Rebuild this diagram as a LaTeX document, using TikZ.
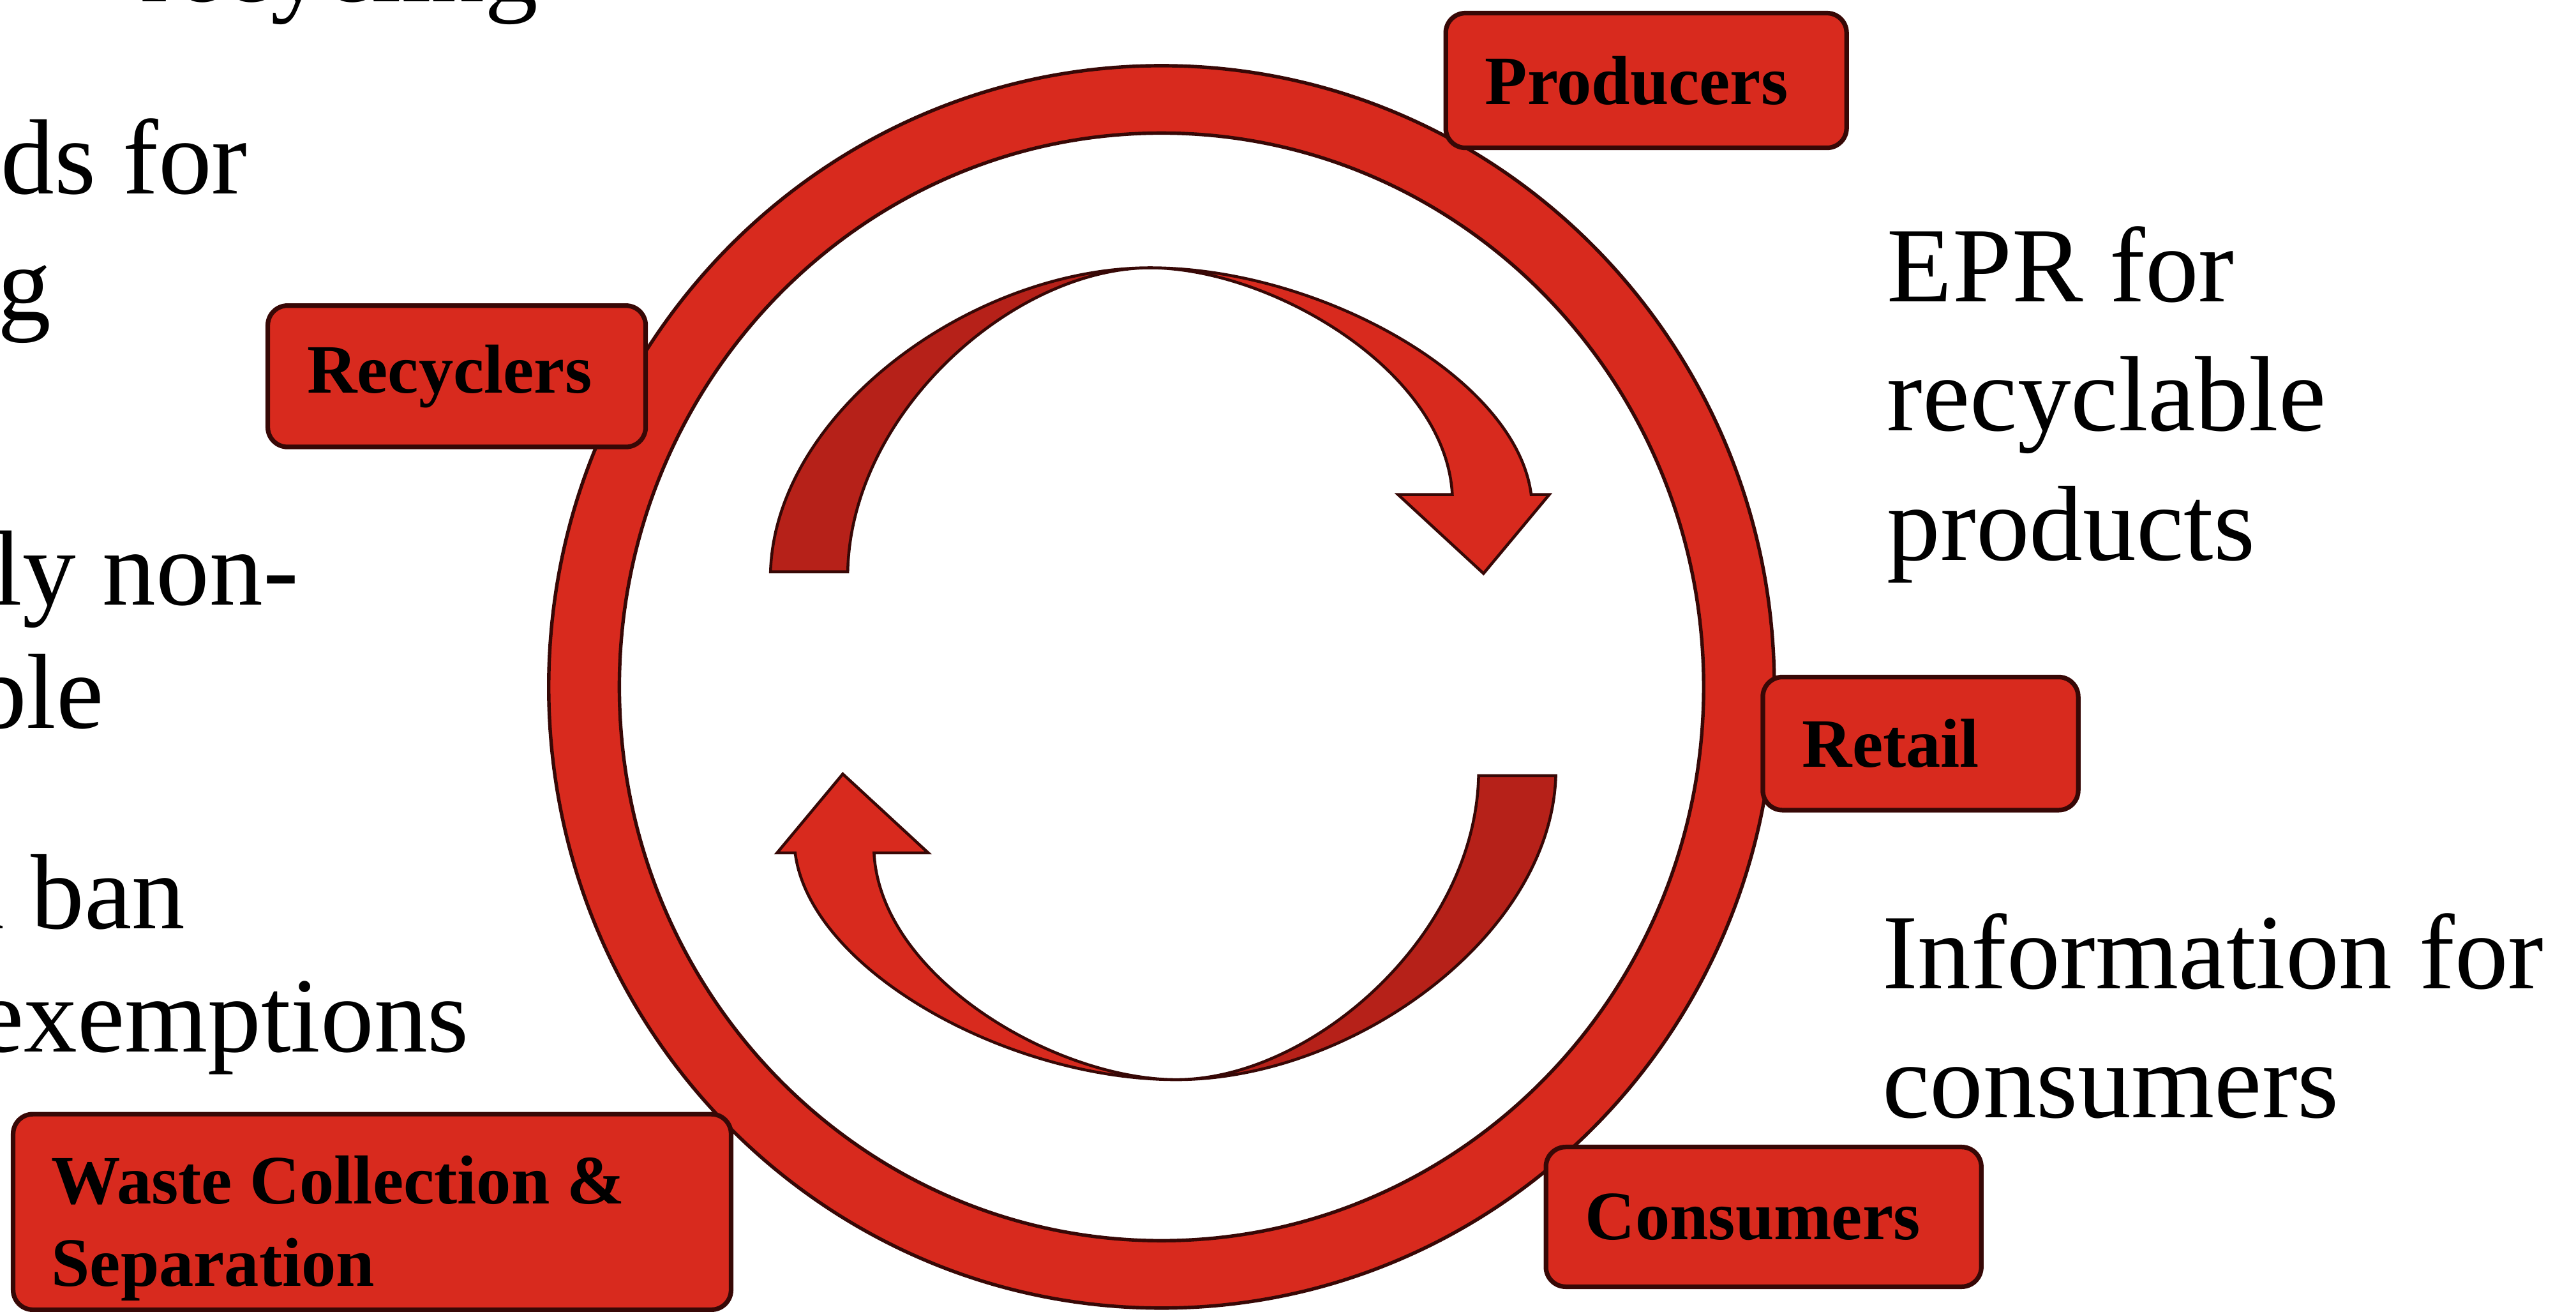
\documentclass[tikz,border=0pt]{standalone}
\usepackage{fontspec}
\setmainfont{Liberation Serif}
\usetikzlibrary{positioning}
\definecolor{loopred}{RGB}{216,42,30}
\definecolor{loopdark}{RGB}{182,33,25}
\definecolor{edgedark}{RGB}{55,8,6}

\begin{document}
\begin{tikzpicture}[x=1cm,y=1cm,
  actor/.style={draw=edgedark, line width=0.8pt, fill=loopred, rounded corners=0.12cm,
    inner xsep=0.24cm, inner ysep=0pt, align=left, font=\fontsize{12}{14.2}\selectfont\bfseries},
  note/.style={inner sep=0pt, anchor=north west, align=left, font=\fontsize{18.5}{22.4}\selectfont},
  cut/.style={inner sep=0pt, anchor=base west, font=\fontsize{18.5}{22.4}\selectfont},
  ribbon/.style={draw=edgedark, line width=0.5pt}]
\useasboundingbox (0,0) rectangle (15.68,7.98);
\clip (0,0) rectangle (15.68,7.98);
% left column, cut off by the frame
\node[cut] (lineA) at (0.85,7.97) {recycling};
\node[cut] (lineB) at (0,6.80) {ds for};
\node[cut] (lineC) at (-0.02,6.03) {g};
\node[cut] (lineD) at (-0.05,4.30) {ly non-};
\node[cut] (lineE) at (-0.17,3.55) {ble};
\node[cut] (lineF) at (-0.27,2.33) {a ban};
\node[cut] (lineG) at (-0.15,1.58) {exemptions};
% ring
\coordinate (rim) at (7.07,3.80);
\filldraw[fill=loopred, draw=edgedark, line width=0.6pt, even odd rule]
  (rim) ellipse [x radius=3.73, y radius=3.78]
  (rim) ellipse [x radius=3.30, y radius=3.37];
% the two turning arrows (twisted ribbon)
\coordinate (hub) at (7.08,3.88);
\foreach \turn in {0,180}{
\begin{scope}[shift={(hub)}, rotate=\turn]
\filldraw[ribbon, fill=loopdark] (-2.39,0.62) .. controls (-2.36,1.60) and (-1.15,2.47) .. (-0.08,2.47)
  .. controls (-0.90,2.47) and (-1.90,1.60) .. (-1.92,0.62) -- cycle;
\filldraw[ribbon, fill=loopred] (-0.08,2.47) .. controls (0.95,2.47) and (2.15,1.80) .. (2.24,1.09)
  -- (2.35,1.09) -- (1.95,0.61) -- (1.43,1.09) -- (1.76,1.09)
  .. controls (1.72,1.85) and (0.65,2.47) .. (-0.08,2.47) -- cycle;
\end{scope}
}
% actors round the loop
\node[actor, text width=1.96cm, minimum height=0.82cm] (producers) at (10.02,7.49) {Producers};
\node[actor, text width=1.82cm, minimum height=0.86cm] (recyclers) at (2.78,5.69) {Recyclers};
\node[actor, text width=1.44cm, minimum height=0.81cm] (retail) at (11.69,3.455) {Retail};
\node[actor, text width=2.17cm, minimum height=0.85cm] (consumers) at (10.735,0.575) {Consumers};
\node[actor, minimum width=4.37cm, minimum height=1.19cm] (waste) at (2.265,0.605) {};
\node[inner sep=0pt, anchor=west, align=left, font=\fontsize{12}{14.2}\selectfont\bfseries]
  (wastetext) at ([xshift=0.24cm, yshift=-0.1cm]waste.west) {Waste Collection \&\\Separation};
% right column
\node[note] (epr) at (11.48,6.61) {EPR for\\recyclable\\products};
\node[note] (info) at (11.45,2.43) {Information for\\consumers};
\end{tikzpicture}
\end{document}
